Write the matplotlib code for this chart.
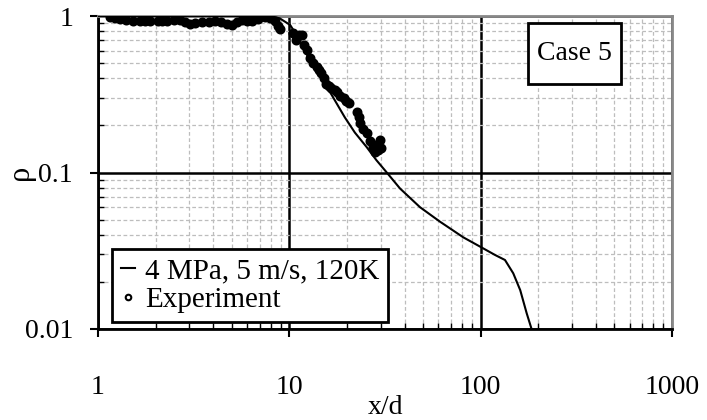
import matplotlib
matplotlib.use("Agg")
import matplotlib.pyplot as plt
from matplotlib.ticker import LogLocator, NullFormatter, FixedFormatter, FixedLocator
from matplotlib.lines import Line2D
from matplotlib.patches import Rectangle

plt.rcParams['font.family'] = ['Liberation Serif', 'DejaVu Serif']

# === Data simulasi (garis) ===
sim_x = [1, 7.9, 8.9, 10.1, 10.9, 11.8, 12.8, 13.3, 15.0, 16.6, 19.5, 22.0, 25.4, 28.5,
         32.3, 37.9, 48.2, 61.3, 81.2, 99.3, 119, 134, 148, 161, 174, 185]
sim_rho = [1, 1, 0.967, 0.876, 0.757, 0.637, 0.52, 0.48, 0.385, 0.315, 0.225, 0.18, 0.145, 0.12,
           0.1, 0.079, 0.06, 0.0485, 0.0385, 0.0336, 0.0297, 0.0276, 0.0227, 0.0177, 0.0126, 0.0099]

# === Data eksperimen (titik) ===
exp_x = [1.155, 1.22, 1.30, 1.40, 1.52, 1.65, 1.76, 1.87, 2.05, 2.17, 2.29, 2.5, 2.68, 2.85, 3.03,
         3.21, 3.5, 3.8, 4.09, 4.4, 4.7, 5.0, 5.3, 5.64, 6.0, 6.36, 6.9, 7.46, 7.9,
         8.42, 8.73, 8.9,
         10.5, 10.9, 11.2, 11.6, 12.0, 12.3, 12.8, 13.3, 13.9, 14.3, 14.7, 15.2, 15.6,
         16.1, 16.5, 17.3, 17.7, 18.5, 19.2, 19.8, 20.4, 22.5, 23.0, 23.4, 24.4, 25.4, 26.4,
         27.4, 28.5, 29.7, 30.3, 28.0, 29.0]
exp_rho = [0.98, 0.97, 0.95, 0.94, 0.93, 0.93, 0.93, 0.93, 0.93, 0.93, 0.935, 0.94, 0.94, 0.92, 0.89,
           0.90, 0.91, 0.92, 0.925, 0.91, 0.89, 0.88, 0.91, 0.947, 0.93, 0.925, 0.96, 0.99, 0.97,
           0.925, 0.86, 0.83,
           0.775, 0.70, 0.76, 0.76, 0.65, 0.607, 0.537, 0.50, 0.475, 0.45, 0.43, 0.40, 0.37,
           0.355, 0.345, 0.337, 0.328, 0.31, 0.298, 0.285, 0.277, 0.245, 0.225, 0.206, 0.19, 0.178, 0.16,
           0.146, 0.15, 0.161, 0.143, 0.136, 0.14]

x_ticks = [1, 10, 100, 1000]
x_labels = ["1", "10", "100", "1000"]
y_ticks = [0.01, 0.1, 1]
y_labels = ["0.01", "0.1", "1"]

fig = plt.figure(figsize=(7.07, 4.2), dpi=100)
ax = fig.add_axes([98 / 707, 1 - 329 / 420, 574 / 707, 313 / 420])

ax.set_xscale('log')
ax.set_yscale('log')
ax.set_xlim(1, 1000)
ax.set_ylim(0.01, 1)

# grid minor abu-abu putus-putus, mayor hitam
ax.xaxis.set_minor_locator(LogLocator(base=10, subs=range(2, 10)))
ax.yaxis.set_minor_locator(LogLocator(base=10, subs=range(2, 10)))
ax.xaxis.set_minor_formatter(NullFormatter())
ax.yaxis.set_minor_formatter(NullFormatter())
ax.grid(True, which='minor', color='#bdbdbd', linestyle=(0, (3, 2)), linewidth=0.9)
ax.grid(True, which='major', color='black', linewidth=1.8)

ax.xaxis.set_major_locator(FixedLocator(x_ticks))
ax.xaxis.set_major_formatter(FixedFormatter(x_labels))
ax.yaxis.set_major_locator(FixedLocator(y_ticks))
ax.yaxis.set_major_formatter(FixedFormatter(y_labels))

ax.tick_params(which='major', direction='out', length=6, width=1.5, labelsize=20)
ax.tick_params(axis='x', which='major', pad=27)
ax.tick_params(axis='y', which='major', pad=12)
ax.tick_params(which='minor', direction='in', length=4, width=1)

for s in ['left', 'bottom']:
    ax.spines[s].set_color('black')
    ax.spines[s].set_linewidth(2)
for s in ['top', 'right']:
    ax.spines[s].set_color('#888888')
    ax.spines[s].set_linewidth(2)

ax.plot(sim_x, sim_rho, color='black', linewidth=1.5, zorder=3)
ax.plot(exp_x, exp_rho, linestyle='none', marker='o', markersize=3.6,
        markerfacecolor='white', markeredgecolor='black', markeredgewidth=3.6, zorder=4)

ax.set_xlabel("x/d", fontsize=20)
ax.xaxis.set_label_coords(0.5, -0.21)
ax.set_ylabel("ρ", fontsize=22, rotation=90)
ax.yaxis.set_label_coords(-0.11, 0.5)

# legenda
h_sim = Line2D([], [], color='black', linewidth=1.5)
h_exp = Line2D([], [], linestyle='none', marker='o', markersize=4,
               markerfacecolor='white', markeredgecolor='black', markeredgewidth=1.5)
leg = ax.legend([h_sim, h_exp], ["4 MPa, 5 m/s, 120K", "Experiment"],
                loc='lower left', bbox_to_anchor=(0.024, 0.022), borderaxespad=0,
                fontsize=21, handlelength=0.5, handletextpad=0.35, borderpad=0.3,
                labelspacing=0.1, fancybox=False, framealpha=1)
leg.get_frame().set_edgecolor('black')
leg.get_frame().set_linewidth(2)
leg.set_zorder(5)

# kotak label "Case 5"
ax.add_patch(Rectangle((0.749, 0.783), 0.162, 0.195, transform=ax.transAxes,
                       facecolor='white', edgecolor='black', linewidth=2, zorder=5))
ax.text(0.830, 0.88, "Case 5", transform=ax.transAxes, fontsize=20,
        ha='center', va='center', zorder=6)

fig.savefig("out.png", dpi=100)
print("Grafik disimpan sebagai out.png")
